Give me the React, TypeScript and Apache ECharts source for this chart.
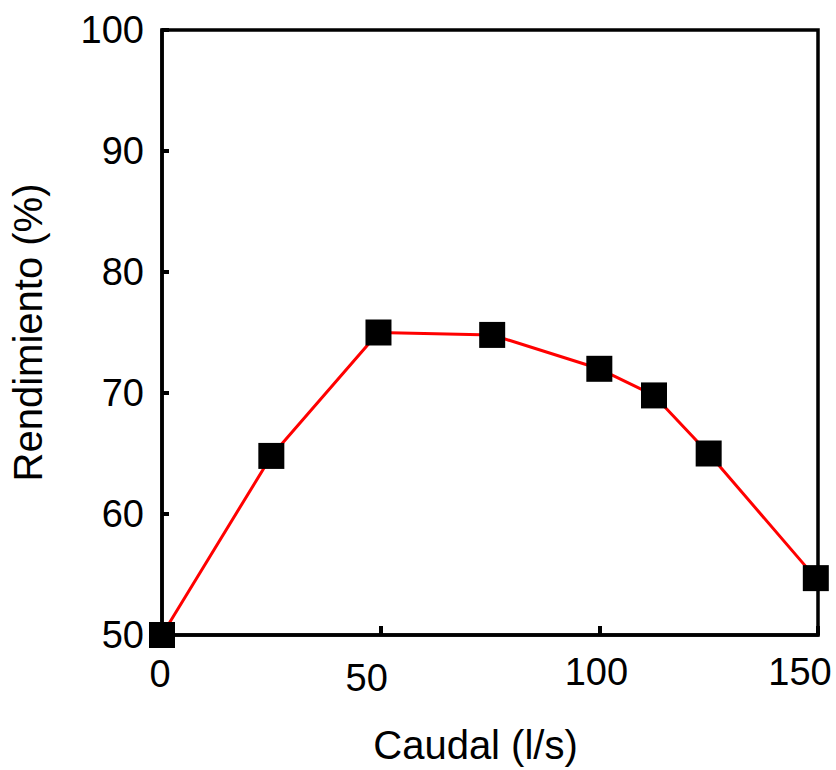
import React, { useEffect, useRef } from "react";
import * as echarts from "echarts";

const caudal = [0, 25, 49.5, 75.5, 100, 112.5, 125, 149.5];
const rendimiento = [50, 64.8, 75, 74.8, 72, 69.8, 65, 54.7];
const xTicks = [0, 50, 100, 150];
const yTicks = [50, 60, 70, 80, 90, 100];
const xTitle = "Caudal (l/s)";
const yTitle = "Rendimiento (%)";

const FONT = "'Liberation Sans', Arial, sans-serif";

export default function App() {
  const ref = useRef<HTMLDivElement>(null);
  useEffect(() => {
    if (!ref.current) return;
    const chart = echarts.init(ref.current, undefined, { renderer: "svg" });
    const lbl = (extra: any) => ({ fontSize: 38, fontFamily: FONT, color: "#000", ...extra });
    chart.setOption({
      animation: false,
      backgroundColor: "#fff",
      grid: {
        left: 162,
        right: 18,
        top: 30,
        bottom: 132,
        show: true,
        borderColor: "#000",
        borderWidth: 3.5,
        backgroundColor: "transparent",
      },
      xAxis: {
        type: "value",
        min: xTicks[0],
        max: xTicks[xTicks.length - 1],
        interval: 50,
        name: xTitle,
        nameLocation: "middle",
        nameGap: 90,
        nameTextStyle: { fontSize: 40, fontFamily: FONT, color: "#000", padding: [0, 29, 0, 0] },
        axisLine: { lineStyle: { color: "#000", width: 3.5 } },
        axisTick: { inside: true, length: 9, lineStyle: { color: "#000", width: 4 } },
        splitLine: { show: false },
        axisLabel: {
          margin: 18,
          fontSize: 38,
          fontFamily: FONT,
          color: "#000",
          formatter: (v: number) => `{v${v}|${v}}`,
          rich: {
            v0: lbl({ padding: [2, 4, 0, 0] }),
            v50: lbl({ padding: [6, 28, 0, 0] }),
            v100: lbl({ padding: [0, 6, 0, 0] }),
            v150: lbl({ padding: [0, 36, 0, 0] }),
          },
        },
      },
      yAxis: {
        type: "value",
        min: yTicks[0],
        max: yTicks[yTicks.length - 1],
        interval: 10,
        name: yTitle,
        nameLocation: "middle",
        nameGap: 114,
        nameRotate: 90,
        nameTextStyle: { fontSize: 40, fontFamily: FONT, color: "#000" },
        axisLine: { lineStyle: { color: "#000", width: 3.5 } },
        axisTick: { inside: true, length: 7, lineStyle: { color: "#000", width: 4 } },
        splitLine: { show: false },
        axisLabel: { margin: 18, fontSize: 38, fontFamily: FONT, color: "#000" },
      },
      series: [
        {
          type: "line",
          data: caudal.map((x, i) => [x, rendimiento[i]]),
          symbol: "rect",
          symbolSize: 26,
          clip: false,
          lineStyle: { color: "#ff0000", width: 3 },
          itemStyle: { color: "#000" },
          z: 5,
        },
      ],
    });
    return () => chart.dispose();
  }, []);
  return (
    <div
      ref={ref}
      style={{ position: "absolute", left: 0, top: 0, width: 836, height: 770 }}
    />
  );
}
